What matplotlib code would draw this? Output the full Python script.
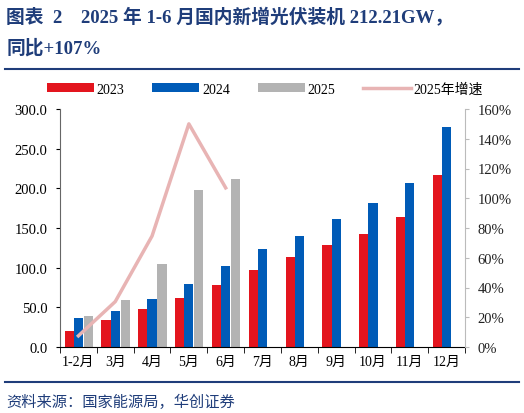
import numpy as np
import matplotlib.pyplot as plt
from matplotlib.ticker import FuncFormatter

months = ['1-2月', '3月', '4月', '5月', '6月', '7月', '8月', '9月', '10月', '11月', '12月']
y2023 = [20.4, 33.7, 48.3, 61.2, 78.4, 97.2, 113.2, 128.9, 142.6, 163.9, 216.9]
y2024 = [36.7, 45.7, 60.1, 79.2, 102.5, 123.5, 140.0, 160.9, 181.3, 206.3, 277.6]
y2025 = [39.5, 59.7, 104.9, 197.9, 212.2]
growth2025 = [7.5, 30.5, 74.6, 150.0, 107.0]

navy = '#1F3D7A'
serif_cjk = ['Liberation Serif', 'Noto Sans CJK SC']
plt.rcParams['font.family'] = serif_cjk

fig = plt.figure(figsize=(5.24, 4.14), dpi=100)
ax = fig.add_axes([60 / 524, 1 - 348 / 414, 405 / 524, 238 / 414])

x = np.arange(len(months))
w = 0.25
ax.bar(x - w, y2023, w, color='#E3151E', label='2023')
ax.bar(x, y2024, w, color='#005BB7', label='2024')
ax.bar(np.arange(len(y2025)) + w + 0.02, y2025, w, color='#B3B3B3', label='2025')

ax.set_xlim(-0.5, len(months) - 0.5)
ax.set_ylim(0, 300)
ax.set_yticks(np.arange(0, 301, 50))
ax.yaxis.set_major_formatter(FuncFormatter(lambda v, p: f'{v:.1f}'))
ax.set_xticks(x)
ax.set_xticklabels(months)
ax.set_xticks(np.arange(-0.5, len(months), 1), minor=True)
ax.tick_params(axis='x', which='major', length=0, labelsize=10, pad=6)
ax.tick_params(axis='x', which='minor', length=4, direction='out')
ax.tick_params(axis='y', length=3, labelsize=10.5, pad=6)
ax.spines['top'].set_visible(False)
ax.spines['right'].set_visible(False)
ax.spines['left'].set_color('#666666')

ax2 = ax.twinx()
ax2.plot(np.arange(len(growth2025)), growth2025, color='#E8B4B4', lw=2.5, label='2025年增速')
ax2.set_ylim(0, 160)
ax2.set_yticks(np.arange(0, 161, 20))
ax2.yaxis.set_major_formatter(FuncFormatter(lambda v, p: f'{v:.0f}%'))
ax2.tick_params(axis='y', length=3, labelsize=10.5, colors='#222222', pad=6)
ax2.tick_params(axis='y', color='#BBBBBB')
for s in ['top', 'left', 'bottom']:
    ax2.spines[s].set_visible(False)
ax2.spines['right'].set_color('#BBBBBB')

h1, l1 = ax.get_legend_handles_labels()
h2, l2 = ax2.get_legend_handles_labels()
fig.legend(h1 + h2, l1 + l2, ncol=4, loc='center', bbox_to_anchor=(0.505, 1 - 90 / 414),
           frameon=False, fontsize=10, handlelength=3.4, handleheight=0.6,
           columnspacing=2.0, handletextpad=0.2)

fig.text(0.012, 1 - 18 / 414, '图表  2　2025 年 1-6 月国内新增光伏装机 212.21GW，',
         fontsize=13.5, fontweight='bold', color=navy, va='center')
fig.text(0.012, 1 - 48 / 414, '同比+107%', fontsize=13.5, fontweight='bold', color=navy, va='center')
fig.add_artist(plt.Line2D([0.01, 0.99], [1 - 70 / 414] * 2, color=navy, lw=1.5))
fig.add_artist(plt.Line2D([0.01, 0.99], [1 - 383 / 414] * 2, color=navy, lw=1.5))
fig.text(0.012, 1 - 402 / 414, '资料来源：国家能源局，华创证券', fontsize=11, color=navy,
         style='italic', va='center', family=['Noto Sans CJK SC'])

fig.savefig('out.png', dpi=100)
